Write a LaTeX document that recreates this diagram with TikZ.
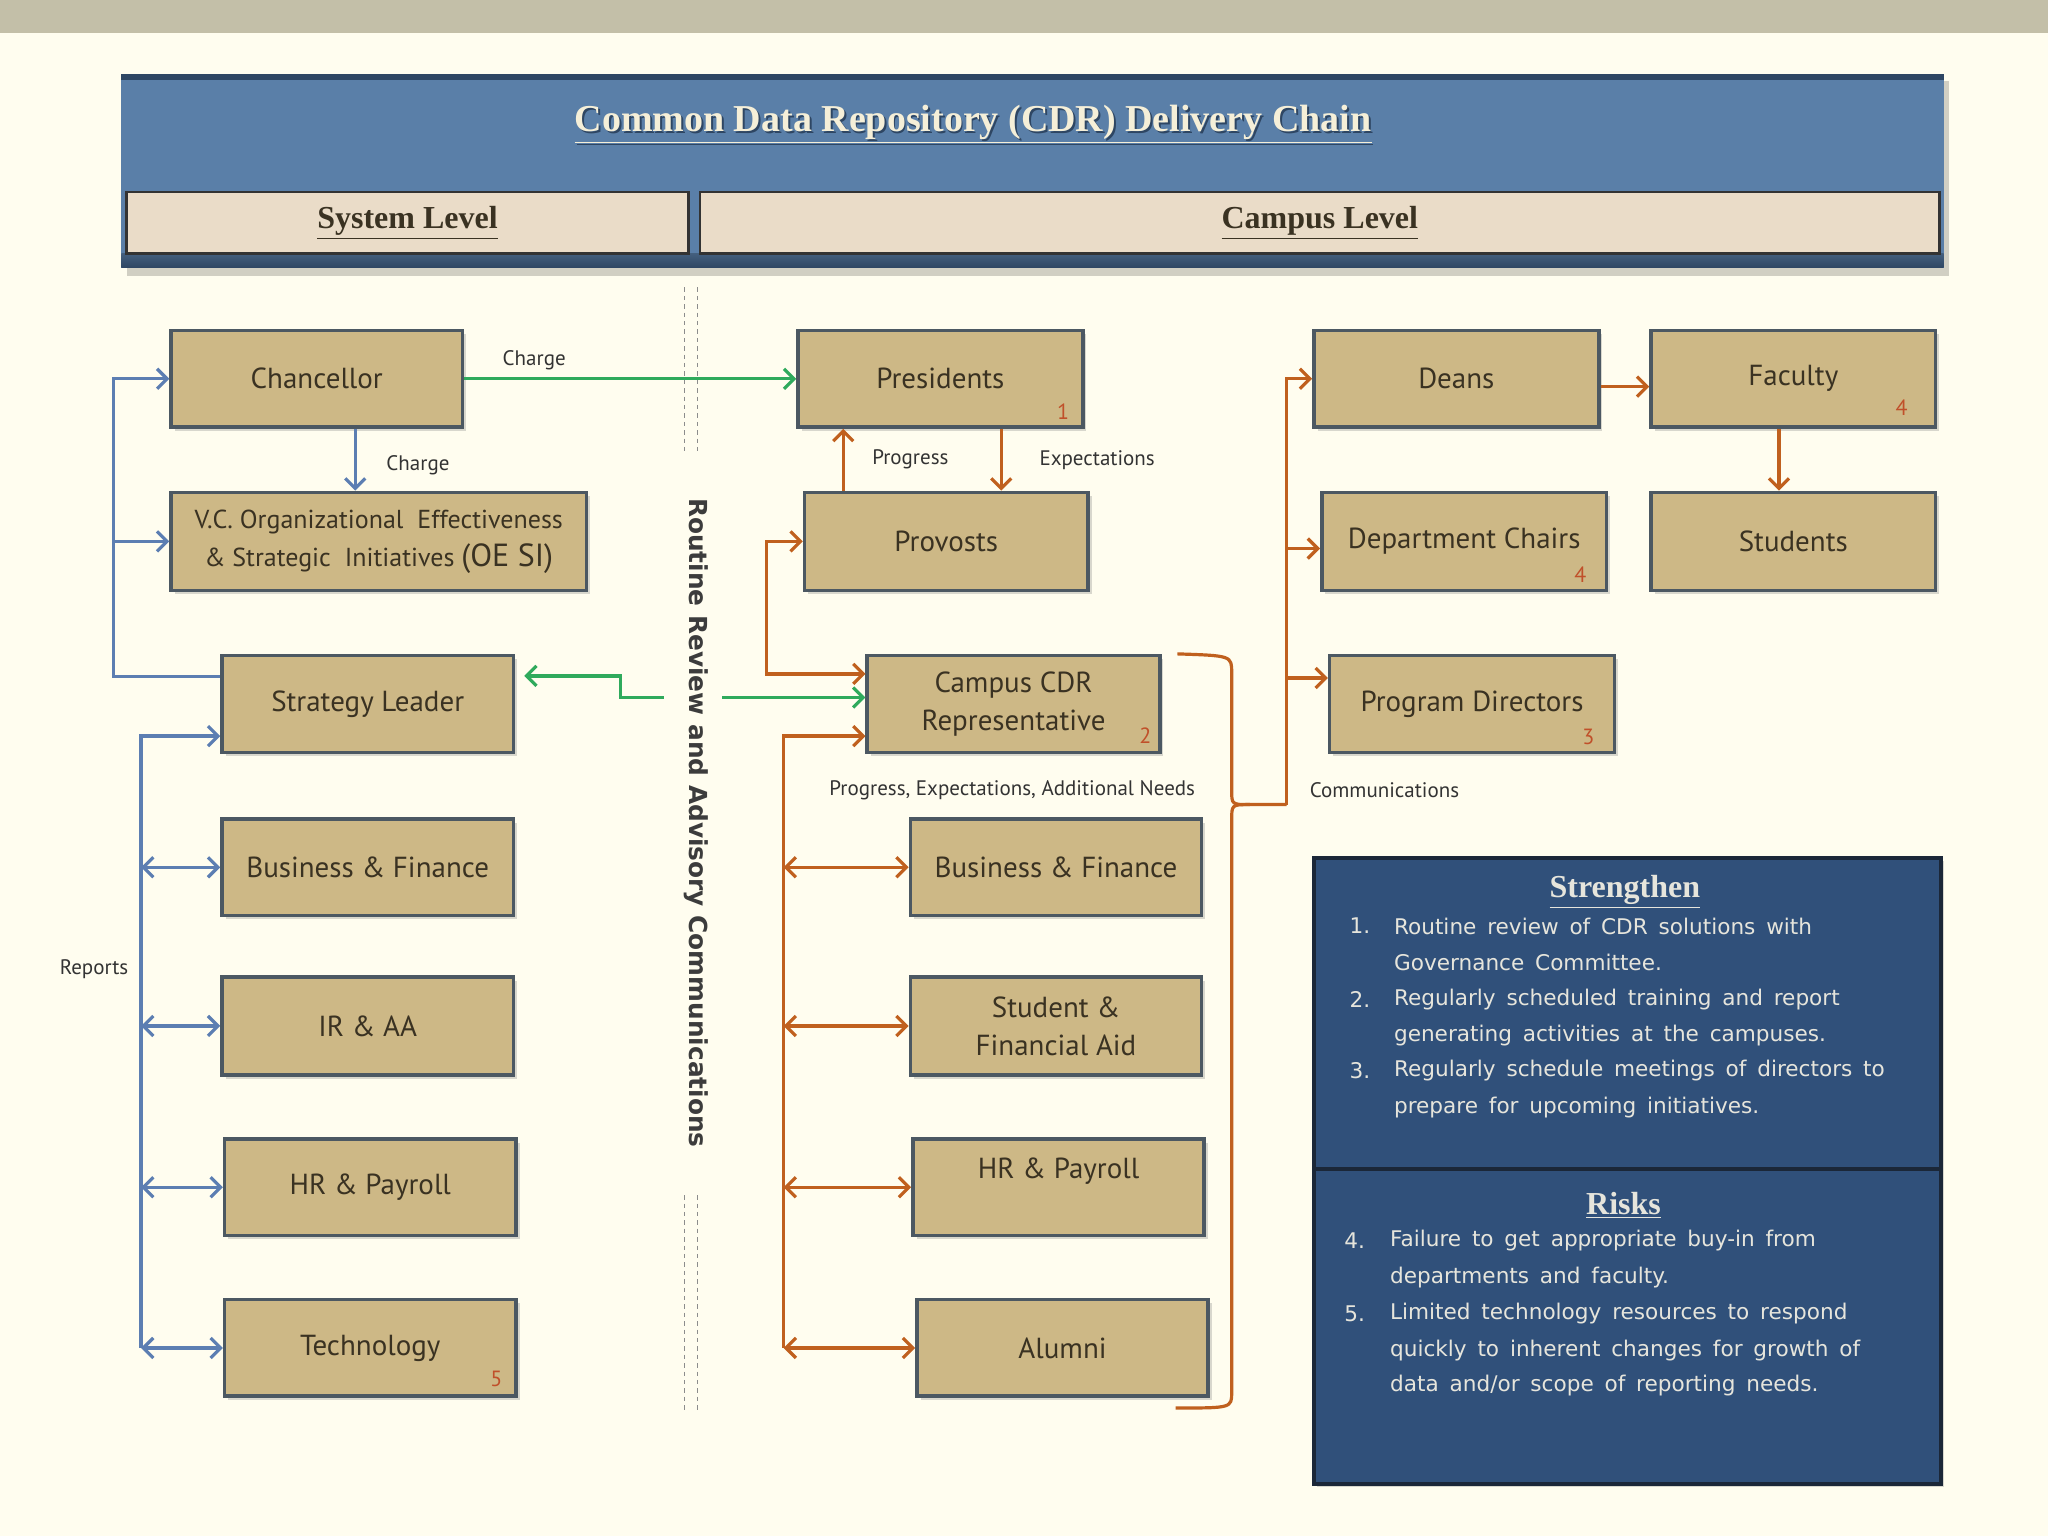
\documentclass[tikz,border=0pt]{standalone}
\usepackage{fontspec}
\setmainfont{PT Sans}
\newfontfamily\verd{DejaVu Sans}
\newfontfamily\serifb{Liberation Serif}
\usetikzlibrary{arrows.meta,shadows,calc}
\definecolor{bgc}{HTML}{FFFDEF}
\definecolor{band}{HTML}{C3BFA8}
\definecolor{hblue}{HTML}{5A7FA8}
\definecolor{hdark}{HTML}{2E4663}
\definecolor{lvl}{HTML}{EADCC8}
\definecolor{tanf}{HTML}{CDB886}
\definecolor{tborder}{HTML}{4C5862}
\definecolor{ttext}{HTML}{3A3222}
\definecolor{grn}{HTML}{2FAA5C}
\definecolor{blu}{HTML}{5C7EB2}
\definecolor{org}{HTML}{C0601E}
\definecolor{numc}{HTML}{C0502A}
\definecolor{panel}{HTML}{30507A}
\definecolor{pborder}{HTML}{1B2738}
\definecolor{ptext}{HTML}{E6E5DC}
\definecolor{vgrey}{HTML}{3C3C3C}
\definecolor{ttitle}{HTML}{F5EFD8}
\newcommand\bx[7][tbox]{\node[#1, minimum width={(#5-#3)*0.653pt}, minimum height={(#6-#4)*0.653pt}] (#2) at ({(#3+#5)/2},{(#4+#6)/2}) {#7};}
\newcommand\panelfont{\verd\fontsize{10.8}{12}\selectfont\spaceskip=0.5em\relax}
\begin{document}
\begin{tikzpicture}[x=0.653pt,y=-0.653pt,
  tbox/.style={draw=tborder, line width=1.8pt, fill=tanf, inner sep=1pt, align=center,
    text=ttext, font=\fontsize{14.5}{19}\selectfont,
    drop shadow={shadow xshift=1.8pt, shadow yshift=-1.8pt, opacity=0.3}},
  lvlbox/.style={draw=black!80, line width=1.3pt, fill=lvl, inner sep=0pt,
    text=ttext, font=\serifb\bfseries\fontsize{16}{19}\selectfont},
  pbox/.style={draw=pborder, line width=2pt, fill=panel, inner sep=0pt},
  lbl/.style={font=\fontsize{10.5}{12}\selectfont, text=black!80, inner sep=0pt},
  num/.style={font=\fontsize{11}{12}\selectfont, text=numc, inner sep=0pt},
  ptx/.style={font=\panelfont, text=ptext, anchor=west, inner sep=0pt},
  phd/.style={font=\serifb\bfseries\fontsize{16}{19}\selectfont, text=ptext, inner sep=0pt},
  arr/.style={-{Straight Barb[length=5pt,width=10pt]}},
  arr2/.style={{Straight Barb[length=5pt,width=10pt]}-{Straight Barb[length=5pt,width=10pt]}},
  gline/.style={draw=grn, line width=1.6pt, arr},
  bline/.style={draw=blu, line width=1.6pt, arr},
  bline2/.style={draw=blu, line width=1.6pt, arr2},
  oline/.style={draw=org, line width=1.6pt, arr},
  oline2/.style={draw=org, line width=1.6pt, arr2},
  ob/.style={draw=org, line width=1.6pt},
  dsh/.style={draw=black!45, line width=0.6pt, dash pattern=on 2.2pt off 2pt}]
\fill[bgc] (0,0) rectangle (1568,1176);
\useasboundingbox (0,0) rectangle (1568,1176);
\fill[band] (0,0) rectangle (1568,25);
% header
\fill[black, opacity=0.18] (97,62) rectangle (1492,211);
\fill[hblue] (93,57) rectangle (1488,205);
\fill[hdark] (93,57) rectangle (1488,61);
\shade[top color=hblue!75!black, bottom color=hdark] (93,194) rectangle (1488,205);
\node[font=\serifb\bfseries\fontsize{19}{22}\selectfont, text=hdark] at (746.5,96.5) {\underline{Common Data Repository (CDR) Delivery Chain}};
\node[font=\serifb\bfseries\fontsize{19}{22}\selectfont, text=ttitle] (title) at (745,95) {\underline{Common Data Repository (CDR) Delivery Chain}};
\bx[lvlbox]{sys}{97}{147}{527}{194}{\underline{System Level}}
\bx[lvlbox]{cam}{536}{147}{1485}{194}{\underline{Campus Level}}
% dashed separators
\draw[dsh] (524,220) -- (524,348);
\draw[dsh] (534,220) -- (534,348);
\draw[dsh] (524,915) -- (524,1080);
\draw[dsh] (534,915) -- (534,1080);
\node[rotate=-90, font=\verd\bfseries\fontsize{12.4}{14}\selectfont, text=vgrey, inner sep=0pt] (rr) at (533,630) {Routine Review and Advisory Communications};
% system level boxes
\bx{chan}{131}{253}{354}{327}{Chancellor}
\bx[tbox, font=\fontsize{13}{19}\selectfont]{vc}{131}{377}{449}{452}{V.C. Organizational\ \ Effectiveness\\ \& Strategic\ \ Initiatives {\fontsize{16}{19}\selectfont(OE SI)}}
\bx{strat}{170}{502}{393}{576}{Strategy Leader}
\bx{bf1}{170}{627}{393}{701}{Business \& Finance}
\bx{ir}{170}{748}{393}{823}{IR \& AA}
\bx{hr1}{172}{872}{395}{946}{HR \& Payroll}
\bx{tech}{172}{995}{395}{1069}{Technology}
% campus boxes
\bx{pres}{611}{253}{829}{327}{Presidents}
\bx{prov}{616}{377}{833}{452}{Provosts}
\bx{cdr}{664}{502}{888}{576}{Campus CDR\\Representative}
\bx{bf2}{697}{627}{920}{701}{Business \& Finance}
\bx{sfa}{697}{748}{920}{823}{Student \&\\Financial Aid}
\bx{hr2}{699}{872}{922}{946}{HR \& Payroll\\ \mbox{}}
\bx{alum}{702}{995}{925}{1069}{Alumni}
\bx{deans}{1006}{253}{1224}{327}{Deans}
\bx{fac}{1264}{253}{1482}{327}{Faculty}
\bx{dc}{1012}{377}{1230}{452}{Department Chairs}
\bx{stu}{1264}{377}{1482}{452}{Students}
\bx{pd}{1018}{502}{1236}{576}{Program Directors}
% numbers
\node[num] at (814,315) {1};
\node[num] at (877,563) {2};
\node[num] at (1216,564) {3};
\node[num] at (1456,312) {4};
\node[num] at (1210,440) {4};
\node[num] at (380,1056) {5};
% green connectors
\draw[gline] (chan.east) -- (pres.west);
\node[lbl] at (409,276) {Charge};
\coordinate (g1) at (508,534);
\coordinate (gk) at (475,534);
\coordinate (g3) at ($(strat.north east)!0.22!(strat.south east)+(7,0)$);
\draw[gline] (g1) -- (gk) |- (g3);
\coordinate (g2) at (553,534);
\draw[gline] (g2) -- (g2 -| cdr.west);
% blue connectors
\coordinate (c1) at ($(chan.south)+(29.5,0)$);
\draw[bline] (c1) -- (c1 |- vc.north);
\node[lbl] at (320,356) {Charge};
\coordinate (bl1) at (87,518);
\draw[bline] (strat.west |- bl1) -- (bl1) |- (chan.west);
\draw[bline] (bl1 |- vc.west) -- (vc.west);
\coordinate (rp) at (108,1030);
\coordinate (s2) at ($(strat.north west)!0.82!(strat.south west)$);
\draw[bline] (rp |- tech.west) |- (s2);
\draw[bline2] (rp |- bf1.west) -- (bf1.west);
\draw[bline2] (rp |- ir.west) -- (ir.west);
\draw[bline2] (rp |- hr1.west) -- (hr1.west);
\draw[bline2] (rp |- tech.west) -- (tech.west);
\node[lbl] at (72,742) {Reports};
% orange: presidents / provosts
\coordinate (pu) at ($(prov.north west)+(31,0)$);
\draw[oline] (pu) -- (pu |- pres.south);
\coordinate (pe) at ($(pres.south west)+(157,0)$);
\draw[oline] (pe) -- (pe |- prov.north);
\node[lbl] at (697,352) {Progress};
\node[lbl] at (840,352) {Expectations};
\coordinate (op) at (587,0);
\coordinate (o3) at ($(cdr.north west)!0.2!(cdr.south west)$);
\draw[oline2] (prov.west) -- (prov.west -| op) |- (o3);
% orange: campus units
\coordinate (oq) at (600,0);
\coordinate (o4) at ($(cdr.north west)!0.82!(cdr.south west)$);
\draw[oline] (oq |- alum.west) |- (o4);
\draw[oline2] (oq |- bf2.west) -- (bf2.west);
\draw[oline2] (oq |- sfa.west) -- (sfa.west);
\draw[oline2] (oq |- hr2.west) -- (hr2.west);
\draw[oline2] (oq |- alum.west) -- (alum.west);
\node[lbl] at (775,605) {Progress, Expectations, Additional Needs};
% brace and communications
\coordinate (bt) at ($(cdr.north east)+(12,0)$);
\coordinate (btip) at (957,616);
\coordinate (cm) at (985,616);
\coordinate (bb) at (900,1078);
\draw[ob] (bt) .. controls (943,502) .. (943,515) -- (943,605) .. controls (943,616) .. (btip) -- (cm);
\draw[ob] (btip) .. controls (943,616) .. (943,628) -- (943,1066) .. controls (943,1078) .. (bb);
\draw[oline] (cm) |- (deans.west);
\coordinate (dcp) at ($(dc.north west)!0.57!(dc.south west)$);
\draw[oline] (cm |- dcp) -- (dcp);
\coordinate (pdp) at ($(pd.north west)!0.24!(pd.south west)$);
\draw[oline] (cm |- pdp) -- (pdp);
\node[lbl] at (1060,605) {Communications};
\draw[oline] ($(deans.east)+(0,6)$) -- ($(fac.west)+(0,6)$);
\coordinate (fs) at ($(fac.south)+(-11,0)$);
\draw[oline] (fs) -- (fs |- stu.north);
% panel
\node[pbox, minimum width={480*0.653pt}, minimum height={238*0.653pt}, drop shadow={shadow xshift=1.5pt, shadow yshift=-1.5pt, opacity=0.3}] (str) at (1246,776) {};
\node[pbox, minimum width={480*0.653pt}, minimum height={241*0.653pt}, drop shadow={shadow xshift=1.5pt, shadow yshift=-1.5pt, opacity=0.3}] (risk) at (1246,1015.5) {};
\node[phd] at (1244,683) {\underline{Strengthen}};
\node[ptx] at (1033,709) {1.};
\node[ptx] at (1067,709) {Routine review of CDR solutions with};
\node[ptx] at (1067,737) {Governance Committee.};
\node[ptx] at (1033,765) {2.};
\node[ptx] at (1067,765) {Regularly scheduled training and report};
\node[ptx] at (1067,793) {generating activities at the campuses.};
\node[ptx] at (1033,820) {3.};
\node[ptx] at (1067,820) {Regularly schedule meetings of directors to};
\node[ptx] at (1067,848) {prepare for upcoming initiatives.};
\node[phd] at (1243,923) {\underline{Risks}};
\node[ptx] at (1029,950) {4.};
\node[ptx] at (1064,950) {Failure to get appropriate buy-in from};
\node[ptx] at (1064,978) {departments and faculty.};
\node[ptx] at (1029,1006) {5.};
\node[ptx] at (1064,1006) {Limited technology resources to respond};
\node[ptx] at (1064,1034) {quickly to inherent changes for growth of};
\node[ptx] at (1064,1061) {data and/or scope of reporting needs.};
\end{tikzpicture}
\end{document}
